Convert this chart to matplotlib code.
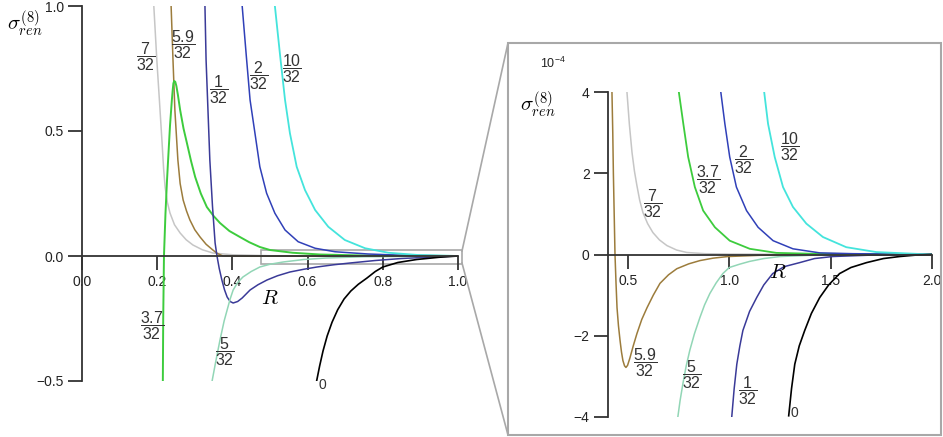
import matplotlib
matplotlib.use("Agg")
import matplotlib.pyplot as plt
from matplotlib.patches import Rectangle
from matplotlib.lines import Line2D

plt.rcParams["font.family"] = ["Liberation Sans", "DejaVu Sans"]
plt.rcParams["mathtext.fontset"] = "custom"
plt.rcParams["mathtext.rm"] = "Liberation Sans"
plt.rcParams["mathtext.it"] = "Liberation Sans:italic"

# ---- left panel data (R, sigma) ----
l7_r = [0.191, 0.199, 0.206, 0.213, 0.217, 0.221, 0.227, 0.234, 0.246, 0.261,
        0.277, 0.295, 0.32, 0.348, 0.40, 0.5, 1.0]
l7_s = [1.0, 0.784, 0.62, 0.452, 0.35, 0.276, 0.215, 0.172, 0.125, 0.092,
        0.065, 0.044, 0.025, 0.012, 0.005, 0.001, 0.0]

l59_r = [0.237, 0.242, 0.247, 0.255, 0.261, 0.269, 0.278, 0.287, 0.30, 0.314,
         0.33, 0.348, 0.36, 0.375, 0.45, 1.0]
l59_s = [1.0, 0.784, 0.584, 0.384, 0.29, 0.224, 0.18, 0.144, 0.105, 0.076,
         0.047, 0.024, 0.01, 0.0, -0.001, 0.0]

l37_r = [0.215, 0.216, 0.218, 0.222, 0.226, 0.229, 0.234, 0.239, 0.241, 0.243,
         0.245, 0.248, 0.251, 0.255, 0.261, 0.27, 0.279, 0.29, 0.301, 0.316,
         0.332, 0.35, 0.367, 0.392, 0.420, 0.445, 0.473, 0.5, 0.56, 0.633,
         0.75, 1.0]
l37_s = [-0.5, -0.25, 0.0, 0.17, 0.3, 0.384, 0.52, 0.624, 0.66, 0.69,
         0.70, 0.697, 0.68, 0.645, 0.584, 0.51, 0.452, 0.38, 0.316, 0.25,
         0.196, 0.16, 0.132, 0.10, 0.076, 0.055, 0.036, 0.024, 0.013, 0.006,
         0.002, 0.0]

l1_r = [0.327, 0.330, 0.335, 0.340, 0.347, 0.354, 0.359, 0.365, 0.372, 0.379,
        0.386, 0.394, 0.402, 0.414, 0.426, 0.447, 0.468, 0.492, 0.52, 0.553,
        0.59, 0.625, 0.67, 0.713, 0.78, 0.85, 0.93, 1.0]
l1_s = [1.0, 0.784, 0.584, 0.384, 0.2, 0.052, 0.0, -0.05, -0.096, -0.135,
        -0.164, -0.182, -0.188, -0.182, -0.168, -0.136, -0.115, -0.096, -0.079, -0.064,
        -0.053, -0.044, -0.035, -0.028, -0.018, -0.01, -0.004, 0.0]

l2_r = [0.426, 0.437, 0.447, 0.460, 0.473, 0.491, 0.513, 0.540, 0.575, 0.620,
        0.673, 0.761, 0.851, 1.0]
l2_s = [1.0, 0.8, 0.624, 0.491, 0.357, 0.251, 0.171, 0.104, 0.057, 0.031,
        0.017, 0.008, 0.003, 0.0]

l10_r = [0.513, 0.527, 0.540, 0.553, 0.571, 0.593, 0.620, 0.655, 0.699, 0.753,
         0.815, 0.894, 1.0]
l10_s = [1.0, 0.8, 0.624, 0.491, 0.357, 0.264, 0.184, 0.117, 0.064, 0.031,
         0.013, 0.004, 0.0]

l5_r = [0.346, 0.356, 0.367, 0.378, 0.386, 0.394, 0.402, 0.414, 0.428, 0.45,
        0.473, 0.5, 0.535, 0.59, 0.65, 0.75, 1.0]
l5_s = [-0.5, -0.42, -0.336, -0.26, -0.216, -0.172, -0.136, -0.106, -0.084, -0.062,
        -0.044, -0.033, -0.024, -0.014, -0.008, -0.003, 0.0]

l0_r = [0.624, 0.632, 0.641, 0.652, 0.665, 0.68, 0.697, 0.715, 0.735, 0.758,
        0.78, 0.80, 0.84, 0.89, 0.95, 1.0]
l0_s = [-0.5, -0.44, -0.38, -0.32, -0.265, -0.215, -0.172, -0.14, -0.113, -0.088,
        -0.062, -0.044, -0.026, -0.014, -0.005, 0.0]

# ---- right panel data (R, sigma in units of 1e-4) ----
r59_r = [0.421, 0.425, 0.428, 0.432, 0.436, 0.441, 0.446, 0.453, 0.461, 0.468,
         0.475, 0.483, 0.490, 0.498, 0.510, 0.526, 0.544, 0.568, 0.594, 0.625,
         0.658, 0.70, 0.741, 0.80, 0.855, 0.92, 0.993, 1.15, 1.3, 2.0]
r59_s = [4.0, 3.0, 2.0, 1.0, 0.0, -0.7, -1.31, -1.75, -2.12, -2.4,
         -2.61, -2.74, -2.78, -2.73, -2.54, -2.25, -1.95, -1.6, -1.31, -1.0,
         -0.71, -0.5, -0.35, -0.23, -0.15, -0.09, -0.05, -0.02, -0.01, 0.0]

r7_r = [0.495, 0.507, 0.520, 0.532, 0.544, 0.558, 0.574, 0.597, 0.623, 0.655,
        0.692, 0.74, 0.790, 0.88, 1.0, 2.0]
r7_s = [4.0, 3.2, 2.51, 2.05, 1.70, 1.33, 1.03, 0.76, 0.54, 0.36,
        0.22, 0.11, 0.05, 0.02, 0.01, 0.0]

r37_r = [0.751, 0.773, 0.797, 0.830, 0.871, 0.929, 1.002, 1.101, 1.232, 1.397, 2.0]
r37_s = [4.0, 3.22, 2.40, 1.66, 1.08, 0.67, 0.34, 0.14, 0.04, 0.02, 0.0]

r2_r = [0.958, 0.978, 1.002, 1.035, 1.085, 1.142, 1.216, 1.314, 1.446, 1.610, 2.0]
r2_s = [4.0, 3.22, 2.40, 1.66, 1.08, 0.67, 0.34, 0.14, 0.04, 0.02, 0.0]

r10_r = [1.172, 1.191, 1.224, 1.265, 1.314, 1.380, 1.462, 1.577, 1.725, 1.905, 2.0]
r10_s = [4.0, 3.22, 2.40, 1.66, 1.17, 0.76, 0.43, 0.18, 0.06, 0.02, 0.0]

r5_r = [0.746, 0.757, 0.771, 0.787, 0.805, 0.828, 0.855, 0.878, 0.904, 0.935,
        0.968, 1.0, 1.05, 1.1, 1.17, 1.25, 1.4, 2.0]
r5_s = [-4.0, -3.6, -3.18, -2.75, -2.36, -1.95, -1.55, -1.24, -0.96, -0.7,
        -0.47, -0.32, -0.24, -0.17, -0.1, -0.05, -0.02, 0.0]

r1_r = [1.012, 1.024, 1.037, 1.052, 1.067, 1.1, 1.135, 1.17, 1.214, 1.27,
        1.347, 1.42, 1.51, 1.7, 2.0]
r1_s = [-4.0, -3.3, -2.7, -2.25, -1.87, -1.4, -1.06, -0.75, -0.47, -0.3,
        -0.2, -0.1, -0.05, -0.015, 0.0]

r0_r = [1.293, 1.307, 1.323, 1.345, 1.372, 1.405, 1.446, 1.49, 1.544, 1.60,
        1.677, 1.76, 1.84, 1.92, 2.0]
r0_s = [-3.97, -3.3, -2.7, -2.25, -1.87, -1.45, -1.06, -0.75, -0.47, -0.32,
        -0.2, -0.1, -0.05, -0.015, 0.0]

left_xticks = [0.0, 0.2, 0.4, 0.6, 0.8, 1.0]
left_yticks = [-0.5, 0.0, 0.5, 1.0]
right_xticks = [0.5, 1.0, 1.5, 2.0]
right_yticks = [-4, -2, 0, 2, 4]

c_gray = "#c6c6c6"
c_brown = "#9c7c3c"
c_green = "#3dcc3d"
c_navy = "#3a3a98"
c_blue = "#3040b8"
c_cyan = "#44e4dc"
c_teal = "#92d6b6"
c_black = "#000000"
axis_col = "#333333"


def style_axes(ax, xticks, yticks):
    ax.spines["top"].set_visible(False)
    ax.spines["right"].set_visible(False)
    ax.spines["bottom"].set_position(("data", 0))
    for s in ("left", "bottom"):
        ax.spines[s].set_color(axis_col)
        ax.spines[s].set_linewidth(1.3)
    ax.set_xticks(xticks)
    ax.set_yticks(yticks)
    ax.set_xticklabels(["%.1f" % v for v in xticks])
    ax.tick_params(direction="out", length=10, width=1.3, color=axis_col,
                   labelsize=10, labelcolor="#222222")
    ax.tick_params(axis="x", pad=4)
    ax.tick_params(axis="y", pad=3)
    ax.patch.set_alpha(0)


def frac(ax, x, y, num, den):
    ax.text(x, y, r"$\dfrac{%s}{%s}$" % (num, den), ha="center", va="center",
            fontsize=11.5, color="#333333")


fig = plt.figure(figsize=(9.43, 4.37), dpi=100)

# ---------- left panel ----------
axl = fig.add_axes([82 / 943, 56 / 437, 376 / 943, 375 / 437])
axl.set_xlim(0, 1.0)
axl.set_ylim(-0.5, 1.0)
lw = 1.1
axl.plot(l7_r, l7_s, color=c_gray, lw=lw)
axl.plot(l59_r, l59_s, color=c_brown, lw=lw)
axl.plot(l37_r, l37_s, color=c_green, lw=1.4)
axl.plot(l1_r, l1_s, color=c_navy, lw=lw)
axl.plot(l2_r, l2_s, color=c_blue, lw=lw)
axl.plot(l10_r, l10_s, color=c_cyan, lw=1.3)
axl.plot(l5_r, l5_s, color=c_teal, lw=lw)
axl.plot(l0_r, l0_s, color=c_black, lw=1.2)
style_axes(axl, left_xticks, left_yticks)
axl.set_yticklabels(["\u2212%.1f" % -v if v < 0 else "%.1f" % v for v in left_yticks])

frac(axl, 0.170, 0.796, "7", "32")
frac(axl, 0.269, 0.844, "5.9", "32")
frac(axl, 0.364, 0.664, "1", "32")
frac(axl, 0.471, 0.720, "2", "32")
frac(axl, 0.559, 0.748, "10", "32")
frac(axl, 0.186, -0.280, "3.7", "32")
frac(axl, 0.380, -0.384, "5", "32")
axl.text(0.638, -0.516, "0", ha="center", va="center", fontsize=10, color="#333333")
axl.text(0.50, -0.168, r"$R$", ha="center", va="center", fontsize=15,
         math_fontfamily="cm")

# zoom rectangle
axl.add_patch(Rectangle((0.475, -0.03), 0.535, 0.054, fill=False,
                        edgecolor="#a8a8a8", lw=1.2, clip_on=False))

fig.text(25 / 943, 1 - 24 / 437, r"$\sigma_{ren}^{(8)}$", ha="center", va="center",
         fontsize=15, math_fontfamily="cm")

# ---------- inset frame and connectors ----------
fig.patches.append(Rectangle((508 / 943, 1 - 435 / 437), 433 / 943, 392 / 437,
                             transform=fig.transFigure, fill=False,
                             edgecolor="#a8a8a8", lw=1.5))
fig.lines.append(Line2D([462 / 943, 508 / 943], [1 - 251 / 437, 1 - 43 / 437],
                        transform=fig.transFigure, color="#a8a8a8", lw=1.2))
fig.lines.append(Line2D([462 / 943, 508 / 943], [1 - 263 / 437, 1 - 435 / 437],
                        transform=fig.transFigure, color="#a8a8a8", lw=1.2))

# ---------- right panel ----------
axr = fig.add_axes([607.7 / 943, 20 / 437, 324.3 / 943, 325 / 437])
axr.set_xlim(0.4, 2.0)
axr.set_ylim(-4, 4)
axr.plot(r7_r, r7_s, color=c_gray, lw=lw)
axr.plot(r59_r, r59_s, color=c_brown, lw=lw)
axr.plot(r37_r, r37_s, color=c_green, lw=1.3)
axr.plot(r2_r, r2_s, color=c_blue, lw=lw)
axr.plot(r10_r, r10_s, color=c_cyan, lw=1.3)
axr.plot(r5_r, r5_s, color=c_teal, lw=lw)
axr.plot(r1_r, r1_s, color=c_navy, lw=lw)
axr.plot(r0_r, r0_s, color=c_black, lw=1.2)
style_axes(axr, right_xticks, right_yticks)
axr.set_yticklabels(["\u2212%d" % -v if v < 0 else "%d" % v for v in right_yticks])

frac(axr, 0.623, 1.26, "7", "32")
frac(axr, 0.894, 1.85, "3.7", "32")
frac(axr, 1.071, 2.34, "2", "32")
frac(axr, 1.298, 2.66, "10", "32")
frac(axr, 0.584, -2.66, "5.9", "32")
frac(axr, 0.815, -2.96, "5", "32")
frac(axr, 1.091, -3.35, "1", "32")
axr.text(1.323, -3.89, "0", ha="center", va="center", fontsize=10, color="#333333")
axr.text(1.239, -0.44, r"$R$", ha="center", va="center", fontsize=15,
         math_fontfamily="cm")

fig.text(538 / 943, 1 - 105 / 437, r"$\sigma_{ren}^{(8)}$", ha="center", va="center",
         fontsize=15, math_fontfamily="cm")
fig.text(553 / 943, 1 - 63 / 437, r"$10^{-4}$", ha="center", va="center",
         fontsize=9, color="#222222")

fig.savefig("out.png", dpi=100)
